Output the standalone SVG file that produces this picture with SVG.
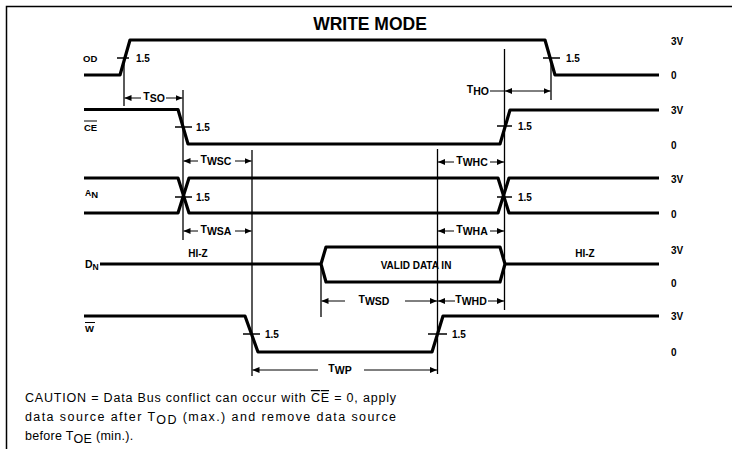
<svg xmlns="http://www.w3.org/2000/svg" width="732" height="451" viewBox="0 0 732 451">
<defs>
<marker id="ah" markerWidth="7" markerHeight="6" refX="7" refY="3" orient="auto" markerUnits="userSpaceOnUse"><path d="M0,0 L7,3 L0,6 Z" fill="#000"/></marker>
</defs>
<style>
text{font-family:"Liberation Sans",Arial,sans-serif;fill:#000}
.b{font-weight:bold}
.lv{font-size:10px;font-weight:bold}
.sig{fill:none;stroke:#000;stroke-width:3.2;stroke-linejoin:round}
.ref{stroke:#000;stroke-width:1.3;fill:none}
.tick{stroke:#000;stroke-width:1.5}
.arr{stroke:#000;stroke-width:1;marker-end:url(#ah)}
.pl{stroke:#000;stroke-width:1}
.lab{font-size:9.5px;font-weight:bold}
.v{font-size:10px;font-weight:bold}
.tm{font-size:10.5px;font-weight:bold}
.c{font-size:12.5px}
</style>
<rect width="732" height="451" fill="#fff"/>
<path d="M6.5,449 V6.5 H732" fill="none" stroke="#000" stroke-width="1.5"/>
<text id="title" x="370" y="30" text-anchor="middle" class="b" font-size="17.5">WRITE MODE</text>

<g id="connectors">
  <line class="ref" x1="124" y1="58" x2="124" y2="106"/>
  <line class="ref" x1="183" y1="90" x2="183" y2="240"/>
  <line class="ref" x1="252" y1="150" x2="252" y2="376"/>
  <line class="ref" x1="504.5" y1="49" x2="504.5" y2="310"/>
  <line class="ref" x1="551" y1="58" x2="551" y2="100"/>
  <line class="ref" x1="437.5" y1="149" x2="437.5" y2="374"/>
  <line class="ref" x1="321" y1="264" x2="321" y2="317"/>

  <line class="arr" x1="141" y1="98" x2="124.5" y2="98"/>
  <line class="arr" x1="166" y1="98" x2="182.5" y2="98"/>
  <text class="tm" x="154" y="101.5" text-anchor="middle"><tspan dy="-2">T</tspan><tspan dy="2">SO</tspan></text>

  <line class="pl" x1="490" y1="91" x2="505" y2="91"/>
  <line class="arr" x1="528" y1="91" x2="505" y2="91"/>
  <line class="arr" x1="528" y1="91" x2="550.5" y2="91"/>
  <text class="tm" x="489" y="94.5" text-anchor="end"><tspan dy="-2">T</tspan><tspan dy="2">HO</tspan></text>

  <line class="arr" x1="198" y1="161" x2="183.5" y2="161"/>
  <line class="arr" x1="235" y1="161" x2="251.5" y2="161"/>
  <text class="tm" x="216" y="164.5" text-anchor="middle"><tspan dy="-2">T</tspan><tspan dy="2">WSC</tspan></text>

  <line class="arr" x1="198" y1="231" x2="183.5" y2="231"/>
  <line class="arr" x1="235" y1="231" x2="251.5" y2="231"/>
  <text class="tm" x="216" y="234.5" text-anchor="middle"><tspan dy="-2">T</tspan><tspan dy="2">WSA</tspan></text>

  <line class="arr" x1="454" y1="162" x2="438" y2="162"/>
  <line class="arr" x1="490" y1="162" x2="504" y2="162"/>
  <text class="tm" x="472" y="165.5" text-anchor="middle"><tspan dy="-2">T</tspan><tspan dy="2">WHC</tspan></text>

  <line class="arr" x1="454" y1="231" x2="438" y2="231"/>
  <line class="arr" x1="490" y1="231" x2="504" y2="231"/>
  <text class="tm" x="472" y="234.5" text-anchor="middle"><tspan dy="-2">T</tspan><tspan dy="2">WHA</tspan></text>

  <line class="arr" x1="345" y1="301" x2="321.5" y2="301"/>
  <line class="arr" x1="405" y1="301" x2="437" y2="301"/>
  <text class="tm" x="374" y="304.5" text-anchor="middle"><tspan dy="-2">T</tspan><tspan dy="2">WSD</tspan></text>

  <line class="arr" x1="455" y1="301" x2="438" y2="301"/>
  <line class="arr" x1="488" y1="301" x2="504" y2="301"/>
  <text class="tm" x="471" y="304.5" text-anchor="middle"><tspan dy="-2">T</tspan><tspan dy="2">WHD</tspan></text>

  <line class="arr" x1="318" y1="370" x2="252.5" y2="370"/>
  <line class="arr" x1="364" y1="370" x2="437" y2="370"/>
  <text class="tm" x="340" y="373.5" text-anchor="middle"><tspan dy="-2">T</tspan><tspan dy="2">WP</tspan></text>
</g>

<g id="sig-od">
  <path class="sig" d="M84,75 H120 L130,40 H545 L555,75 H659"/>
  <text class="lab" x="83" y="61.5">OD</text>
  <line class="tick" x1="117" y1="58" x2="129" y2="58"/>
  <text class="v" x="136" y="61.5">1.5</text>
  <line class="tick" x1="543" y1="58" x2="560" y2="58"/>
  <text class="v" x="566" y="61.5">1.5</text>
</g>

<g id="sig-ce">
  <path class="sig" d="M84,109.5 H178 L188,144 H500 L510,110 H659"/>
  <text class="lab" x="84" y="131">CE</text>
  <line stroke="#000" stroke-width="1" x1="84" y1="121" x2="97" y2="121"/>
  <line class="tick" x1="175" y1="127" x2="192" y2="127"/>
  <text class="v" x="196" y="130.5">1.5</text>
  <line class="tick" x1="497" y1="126" x2="512" y2="126"/>
  <text class="v" x="518" y="129.5">1.5</text>
</g>

<g id="sig-an">
  <path class="sig" d="M84,178 H178 L189,213 H498 L509,178 H659"/>
  <path class="sig" d="M84,213 H178 L189,178 H498 L509,213 H659"/>
  <text class="lab" x="85" y="196"><tspan font-size="8.5">A</tspan><tspan dy="1.5">N</tspan></text>
  <line class="tick" x1="175" y1="197" x2="192" y2="197"/>
  <text class="v" x="196" y="200.5">1.5</text>
  <line class="tick" x1="497" y1="197" x2="512" y2="197"/>
  <text class="v" x="518" y="200.5">1.5</text>
</g>

<g id="sig-dn">
  <path class="sig" d="M100,264 H321"/>
  <path class="sig" d="M321,264 L326,247 H500 L505,264 L500,282 H326 Z"/>
  <path class="sig" d="M505,264 H659"/>
  <text class="lab" x="85" y="268"><tspan font-size="10.5">D</tspan><tspan dy="2" font-size="8.5">N</tspan></text>
  <text class="v" x="198" y="256.5" text-anchor="middle">HI-Z</text>
  <text class="v" x="585" y="256.5" text-anchor="middle">HI-Z</text>
  <text class="v" x="416" y="268.5" text-anchor="middle">VALID DATA IN</text>
</g>

<g id="sig-w">
  <path class="sig" d="M84,316 H245 L258,352 H432 L443,316 H659"/>
  <text class="lab" x="85" y="332">W</text>
  <line stroke="#000" stroke-width="1" x1="85" y1="322.5" x2="95" y2="322.5"/>
  <line class="tick" x1="243" y1="334" x2="260" y2="334"/>
  <text class="v" x="265" y="337.5">1.5</text>
  <line class="tick" x1="428" y1="334" x2="447" y2="334"/>
  <text class="v" x="452" y="337.5">1.5</text>
</g>

<g id="levels" class="lv">
  <text x="671" y="44.5">3V</text>
  <text x="671" y="78.5">0</text>
  <text x="671" y="113.5">3V</text>
  <text x="671" y="148.5">0</text>
  <text x="671" y="182.5">3V</text>
  <text x="671" y="217.5">0</text>
  <text x="671" y="253.5">3V</text>
  <text x="671" y="286.5">0</text>
  <text x="671" y="319.5">3V</text>
  <text x="671" y="355.5">0</text>
</g>

<g id="caution" class="c">
  <text x="25" y="402" textLength="371" lengthAdjust="spacing">CAUTION = Data Bus conflict can occur with <tspan text-decoration="overline">CE</tspan> = 0, apply</text>
  <text x="25" y="421" textLength="371" lengthAdjust="spacing">data source after T<tspan dy="3">OD</tspan><tspan dy="-3"> (max.) and remove data source</tspan></text>
  <text x="25" y="440" letter-spacing="0.3">before T<tspan dy="3">OE</tspan><tspan dy="-3"> (min.).</tspan></text>
</g>
</svg>
